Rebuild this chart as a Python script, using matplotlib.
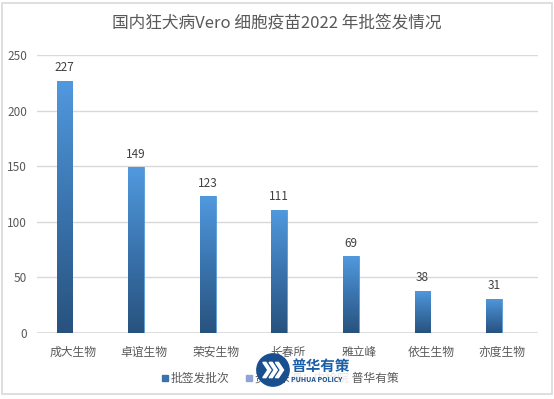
import matplotlib
matplotlib.use("Agg")
import matplotlib.pyplot as plt
import numpy as np
from matplotlib.patches import Rectangle, Circle, Polygon
from matplotlib.colors import LinearSegmentedColormap

plt.rcParams['font.family'] = ['Noto Sans CJK SC', 'DejaVu Sans']

categories = ["成大生物", "卓谊生物", "荣安生物", "长春所", "雅立峰", "依生生物", "亦度生物"]
values = [227, 149, 123, 111, 69, 38, 31]
yticks = [0, 50, 100, 150, 200, 250]
title = "国内狂犬病Vero 细胞疫苗2022 年批签发情况"
legend_labels = ["批签发批次", "资料来源：中检院 普华有策"]

W, H = 554, 399
fig = plt.figure(figsize=(W / 100, H / 100), dpi=100)
fig.patch.set_facecolor("white")

def px(x0, y0):
    return x0 / W, 1 - y0 / H

# chart border
fig.patches.append(Rectangle((2 / W, 1 - 394 / H), 550 / W, 391 / H, transform=fig.transFigure,
                             fill=False, edgecolor="#D9D9D9", linewidth=1.2))

left, right, top, bottom = 37, 538, 55, 333
ax = fig.add_axes([left / W, 1 - bottom / H, (right - left) / W, (bottom - top) / H])
ax.set_yticks(yticks)
ax.yaxis.grid(True, color="#D9D9D9", linewidth=1)
ax.set_axisbelow(True)
for s in ax.spines.values():
    s.set_visible(False)
ax.tick_params(axis="both", length=0, labelsize=8.5, labelcolor="#595959")
ax.tick_params(axis="y", pad=7)
ax.set_xticks(range(len(categories)))
ax.set_xticklabels(categories)
ax.tick_params(axis="x", pad=9)
ax.axhline(0, color="#D9D9D9", linewidth=1.2, zorder=1)

x = np.arange(len(categories))
bar_w = 0.22
# first series of a two-series group (second series empty), so bars sit left of centre
bars = ax.bar(x - bar_w / 2 - 0.005, values, width=bar_w, color="#3F7FC0", edgecolor="#5B9BD5",
              linewidth=0.6, zorder=2)

grad = np.linspace(0, 1, 256).reshape(-1, 1)
cmap = LinearSegmentedColormap.from_list("g", ["#28527E", "#3A74AE", "#5199DE"])
for b, v in zip(bars, values):
    bx, bw = b.get_x(), b.get_width()
    im = ax.imshow(grad, extent=[bx, bx + bw, 0, v], origin="lower", aspect="auto", cmap=cmap, zorder=3)
    im.set_clip_path(b)
    ax.text(bx + bw / 2, v + 6, str(v), ha="center", va="bottom", fontsize=8.5, color="#404040", zorder=4)
ax.set_xlim(-0.5, len(categories) - 0.5)
ax.set_ylim(0, 250)

fig.text(0.5, 1 - 23 / H, title, ha="center", va="center", fontsize=12, color="#595959")

# legend
lx, ly = px(162, 378)
fig.patches.append(Rectangle((lx, ly - 3 / H), 6 / W, 6 / H, transform=fig.transFigure, color="#3A72AC"))
fig.text(px(171, 378)[0], ly, legend_labels[0], ha="left", va="center", fontsize=8.5, color="#595959")
lx2, _ = px(246, 378)
fig.patches.append(Rectangle((lx2, ly - 3 / H), 6 / W, 6 / H, transform=fig.transFigure, color="#8FA3D8"))
fig.text(px(255, 378)[0], ly, legend_labels[1], ha="left", va="center", fontsize=8.5, color="#595959")

# watermark logo
cover = Rectangle(px(289, 386), 62 / W, 30 / H, transform=fig.transFigure, color="white", alpha=0.85,
                  zorder=5)
fig.patches.append(cover)
logo_ax = fig.add_axes([(273 - 17) / W, 1 - (370 + 17) / H, 34 / W, 34 / H], zorder=10)
logo_ax.set_xlim(-1, 1); logo_ax.set_ylim(-1, 1); logo_ax.axis("off")
logo_ax.add_patch(Circle((0, 0), 0.95, color="#1A4F8F"))
for dx in (-0.42, -0.05, 0.32):
    logo_ax.add_patch(Polygon([[dx, 0.45], [dx + 0.3, 0], [dx, -0.45], [dx - 0.18, -0.45],
                               [dx + 0.12, 0], [dx - 0.18, 0.45]], closed=True, color="white"))
fig.text(px(291, 366)[0], px(291, 366)[1], "普华有策", ha="left", va="center", fontsize=10.5,
         fontweight="bold", color="#1A5FA8", zorder=11)
fig.text(px(291, 379)[0], px(291, 379)[1], "PUHUA POLICY", ha="left", va="center", fontsize=5,
         fontweight="bold", color="#1A4F8F", zorder=11)

fig.savefig("out.png", dpi=100)
